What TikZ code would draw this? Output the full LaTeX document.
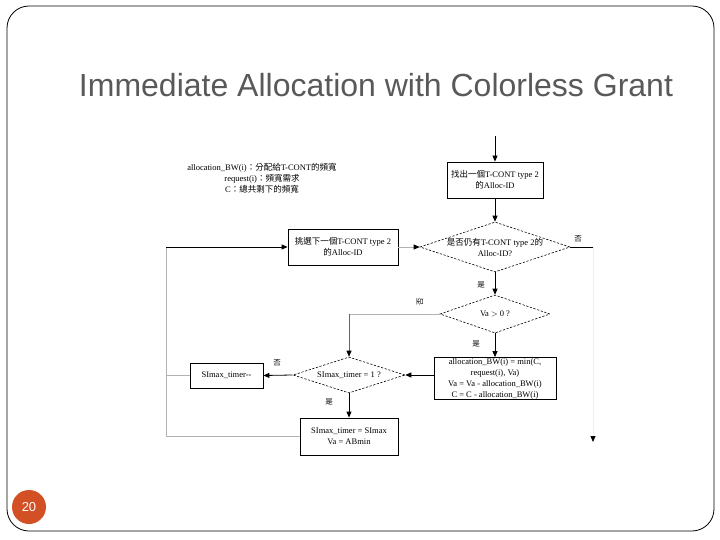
\documentclass[tikz,border=0pt]{standalone}
\usepackage{fontspec}
\setmainfont{Liberation Serif}
\newfontfamily\cjk{Noto Sans CJK TC}
\newfontfamily\titlefont{Liberation Sans}
\usetikzlibrary{shapes.geometric,arrows.meta}
\newcommand{\zh}[1]{{\cjk #1}}
\definecolor{slideorange}{RGB}{210,80,35}
\definecolor{titlegray}{RGB}{89,89,89}
\begin{document}
\begin{tikzpicture}[x=1pt,y=-1pt,
  every node/.style={font=\fontsize{8.5}{11}\selectfont, inner sep=0pt},
  proc/.style={draw, line width=0.8pt, align=center},
  dec/.style={diamond, draw, dash pattern=on 2.2pt off 1.6pt, line width=0.6pt},
  lbl/.style={font=\cjk\fontsize{7.5}{9}\selectfont},
  arr/.style={-{Triangle[length=6pt,width=5pt,color=black]}, line width=0.8pt},
  lineg/.style={draw=gray!60, line width=0.8pt}]
\useasboundingbox (0,0) rectangle (720,540);
% slide frame
\draw[rounded corners=22pt, line width=0.8pt] (7,6) rectangle (714,531);
% title
\node[anchor=base, font=\titlefont\fontsize{32}{35}\selectfont, text=titlegray] (title) at (376,97) {Immediate Allocation with Colorless Grant};
% page number
\node[circle, fill=slideorange, minimum size=34pt, text=white, font=\titlefont\fontsize{13}{15}\selectfont] (pg) at (29,507) {20};

% legend text
\node[align=center] (note) at (262,178) {allocation\_BW(i)\zh{：分配給}T-CONT\zh{的頻寬}\\ request(i)\zh{：頻寬需求}\\ C\zh{：總共剩下的頻寬}};

% nodes
\coordinate (start) at (495,136);
\node[proc, minimum width=96pt, minimum height=36pt] (b1) at (495,180) {\zh{找出一個}T-CONT type 2\\\zh{的}Alloc-ID};
\node[dec, minimum width=150pt, minimum height=50pt] (d1) at (495,247) {};
\node[align=center] (d1t) at (d1) {\zh{是否仍有}T-CONT type 2\zh{的}\\Alloc-ID?};
\node[proc, minimum width=110pt, minimum height=36pt] (b2) at (343,247) {\zh{挑選下一個}T-CONT type 2\\\zh{的}Alloc-ID};
\node[dec, minimum width=110pt, minimum height=38pt] (d2) at (495,314) {};
\node (d2t) at (d2) {Va $>$ 0 ?};
\node[proc, minimum width=122pt, minimum height=42pt] (b3) at (495,378.5) {allocation\_BW(i) = min(C,\\request(i), Va)\\Va = Va - allocation\_BW(i)\\C = C - allocation\_BW(i)};
\node[dec, minimum width=112pt, minimum height=36pt] (d3) at (349,375) {};
\node (d3t) at (d3) {SImax\_timer = 1 ?};
\node[proc, minimum width=73pt, minimum height=25pt] (b4) at (226.5,375.5) {SImax\_timer{-}{-}};
\node[proc, minimum width=98pt, minimum height=37pt] (b5) at (349,436.5) {SImax\_timer = SImax\\Va = ABmin};

\coordinate (rt) at (593,247);
\coordinate (endp) at (593,442);
\coordinate (c1) at (349,314);
\coordinate (l1) at (166,375.5);
\coordinate (l2) at (166,436.5);
\coordinate (l3) at (166,247);

% connectors
\draw[arr] (start) -- (b1);
\draw[arr] (b1) -- (d1);
\draw[arr, draw=gray!60] (b2.east) -- (d1.west);
\draw[line width=0.8pt] (d1.east) -- (rt);
\draw[arr, draw=gray!12] (rt) -- (endp);
\draw[arr] (d1.south) -- (d2.north);
\draw[lineg] (d2.west) -- (c1);
\draw[arr, draw=gray!80!black] (c1) -- (d3.north);
\draw[arr] (d2.south) -- (b3.north);
\draw[arr] (b3.west |- d3.east) -- (d3.east);
\draw[arr] (d3.west) -- (b4.east);
\draw[arr] (d3.south) -- (b5.north);
\draw[lineg] (b4.west) -- (l1);
\draw[lineg] (b5.west) -- (l2) -- (l3);
\draw[arr] (l3) -- (b2.west);

% branch labels
\node[lbl] (y1) at (578,239) {否};
\node[lbl] (n1) at (481,285) {是};
\node[lbl, rotate=90] (y2) at (420,302) {否};
\node[lbl] (n2) at (476,344) {是};
\node[lbl] (y3) at (277,363) {否};
\node[lbl] (n3) at (329,402) {是};
\end{tikzpicture}
\end{document}
